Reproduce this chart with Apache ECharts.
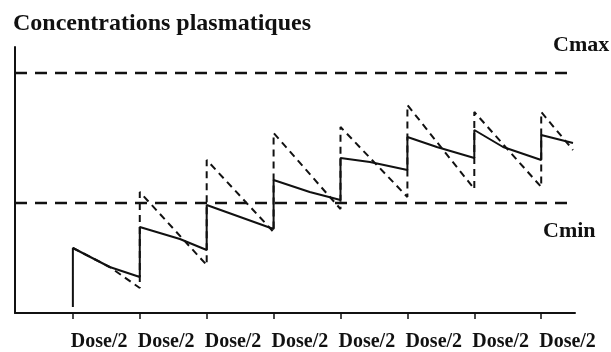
<!DOCTYPE html>
<html>
<head>
<meta charset="utf-8">
<script src="https://cdn.jsdelivr.net/npm/echarts@6/dist/echarts.min.js"></script>
<style>
  html, body { margin: 0; padding: 0; background: #fff; }
  #chart { width: 611px; height: 352px; }
</style>
</head>
<body>
<div id="chart"></div>
<script>
// Time axis in dosing intervals; a half dose is given at each whole interval.
const doseTimes = [1, 2, 3, 4, 5, 6, 7, 8];
const doseLabel = 'Dose/2';

// Therapeutic window bounds (concentration units).
const cmaxLevel = 24;
const cminLevel = 11;
const cmaxSpan = [0.135, 8.505];
const cminSpan = [0.135, 8.39];

// Plasma concentration, slow elimination (solid curve): [time, concentration].
const solidCurve = [
  [1, 0.6], [1, 6.5], [1.55, 4.6], [2, 3.6],
  [2, 8.6], [2.6, 7.4], [3, 6.3],
  [3, 10.8], [3.5, 9.6], [4, 8.4],
  [4, 13.3], [4.54, 12.1], [5, 11.3],
  [5, 15.5], [5.44, 15.1], [6, 14.3],
  [6, 17.6], [6.44, 16.6], [7, 15.5],
  [7, 18.3], [7.43, 16.6], [8, 15.3],
  [8, 17.8], [8.475, 17.0]
];

// Plasma concentration, fast elimination (dashed curve): [time, concentration].
const dashedCurve = [
  [1, 6.5], [1.55, 4.6], [2, 2.5],
  [2, 12.1], [3, 4.8],
  [3, 15.3], [4, 8.1],
  [4, 18.0], [5, 10.4],
  [5, 18.6], [6, 11.6],
  [6, 20.8], [7, 12.4],
  [7, 20.1], [8, 12.6],
  [8, 20.1], [8.475, 16.3]
];

const serif = "'Liberation Serif', 'Times New Roman', 'DejaVu Serif', serif";
const ink = '#111';

const chart = echarts.init(document.getElementById('chart'), null, { renderer: 'canvas' });

chart.setOption({
  animation: false,
  backgroundColor: '#fff',
  grid: { left: 15, right: 36, top: 47, bottom: 39, containLabel: false, outerBoundsMode: 'none' },
  xAxis: {
    type: 'value',
    min: cmaxSpan[0],
    max: cmaxSpan[1],
    splitLine: { show: false },
    axisLine: { show: true, onZero: false, lineStyle: { color: ink, width: 2 } },
    axisTick: {
      show: true, inside: false, length: 6,
      customValues: doseTimes,
      lineStyle: { color: ink, width: 1.5 }
    },
    axisLabel: {
      show: true,
      customValues: doseTimes,
      formatter: () => doseLabel,
      align: 'left',
      padding: [0, 0, 0, -2],
      margin: 19,
      color: ink,
      fontFamily: serif,
      fontWeight: 'bold',
      fontSize: 20
    }
  },
  yAxis: {
    type: 'value',
    min: 0,
    max: 26.6,
    splitLine: { show: false },
    axisLine: { show: true, lineStyle: { color: ink, width: 2 } },
    axisTick: { show: false },
    axisLabel: { show: false }
  },
  graphic: [
    {
      type: 'text', left: 13, top: 12,
      style: { text: 'Concentrations plasmatiques', fill: ink, font: 'bold 24px ' + serif }
    },
    {
      type: 'text', left: 553, top: 34,
      style: { text: 'Cmax', fill: ink, font: 'bold 22px ' + serif }
    },
    {
      type: 'text', left: 543, top: 220,
      style: { text: 'Cmin', fill: ink, font: 'bold 22px ' + serif }
    }
  ],
  series: [
    {
      name: 'Cmax', type: 'line', symbol: 'none', silent: true,
      data: [[cmaxSpan[0], cmaxLevel], [cmaxSpan[1], cmaxLevel]],
      lineStyle: { color: ink, width: 2.5, type: [12, 8] }
    },
    {
      name: 'Cmin', type: 'line', symbol: 'none', silent: true,
      data: [[cminSpan[0], cminLevel], [cminSpan[1], cminLevel]],
      lineStyle: { color: ink, width: 2.5, type: [12, 8] }
    },
    {
      name: 'lente', type: 'line', symbol: 'none', silent: true,
      data: solidCurve,
      lineStyle: { color: ink, width: 2 }
    },
    {
      name: 'rapide', type: 'line', symbol: 'none', silent: true,
      data: dashedCurve,
      lineStyle: { color: ink, width: 2, type: [7, 5] }
    }
  ]
});
</script>
</body>
</html>
